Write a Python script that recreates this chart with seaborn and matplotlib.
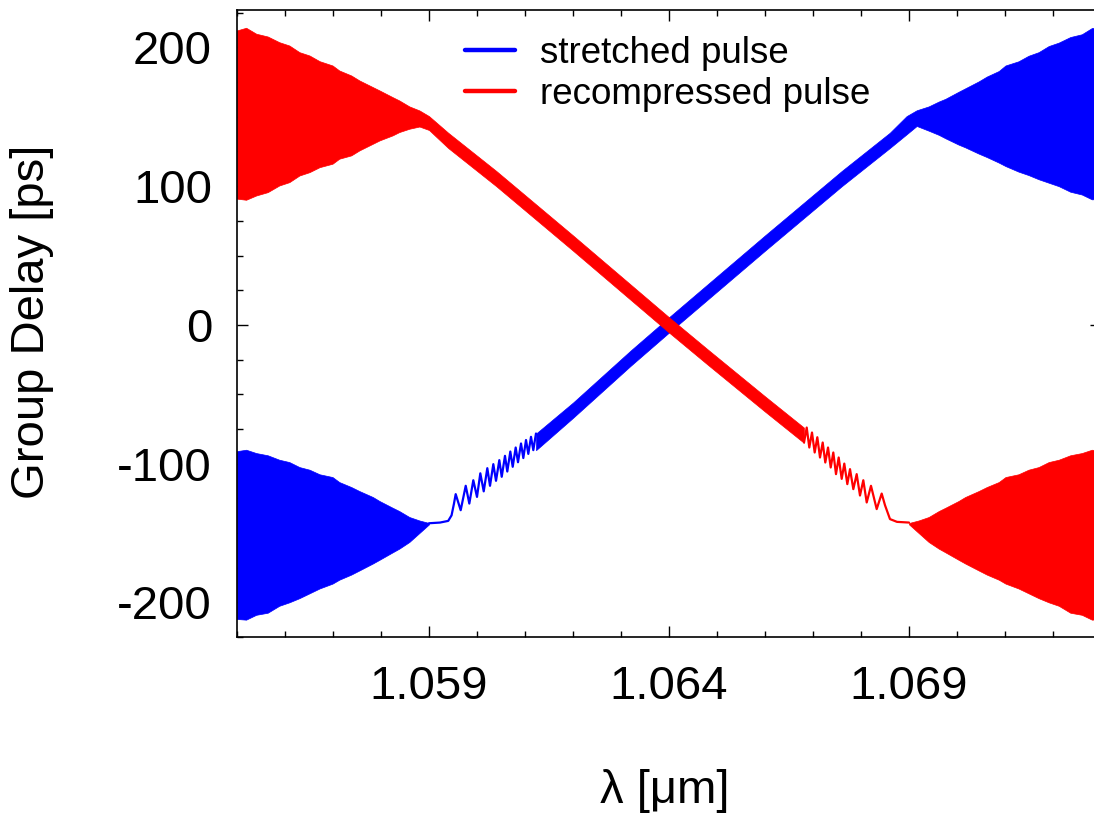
import matplotlib
matplotlib.use("Agg")
import matplotlib.pyplot as plt
import seaborn as sns
from matplotlib.ticker import MultipleLocator, FixedLocator, StrMethodFormatter
from matplotlib.lines import Line2D

# ---------------------------------------------------------------------------
# Group delay of the chirped grating, wavelength in µm, delay in ps
# ---------------------------------------------------------------------------

# stretched pulse: strongly oscillating region below the band (envelope)
blue_left_lam = [1.0550, 1.05519, 1.05540, 1.05564, 1.05588, 1.05609, 1.05630,
                 1.05651, 1.05672, 1.05699, 1.05713, 1.05738, 1.05755, 1.05783,
                 1.05797, 1.05824, 1.05838, 1.05859, 1.05880, 1.0590]
blue_left_hi = [-91, -90, -92.4, -94, -97.2, -98.9, -102.5, -104.4, -107.7, -109.7,
                -113.3, -116.9, -119.8, -124.1, -127, -131.8, -134.2, -138.5, -141,
                -142.8]
blue_left_lo = [-212, -212.5, -209, -207.5, -202.5, -200, -197, -193.5, -190, -186.5,
                -183.7, -180, -177, -172, -169.3, -164, -161.3, -156.5, -150, -143.8]

# stretched pulse: band edge ripple
blue_ripple_lam = [1.05900, 1.05923, 1.05940, 1.05947, 1.05952, 1.059556, 1.059660,
                   1.059765, 1.059840, 1.059923, 1.060000, 1.060069, 1.060140,
                   1.060215, 1.060271, 1.060340, 1.060396, 1.060465, 1.060515,
                   1.060583, 1.060631, 1.060694, 1.060744, 1.060806, 1.060854,
                   1.060917, 1.060965, 1.061021, 1.061069, 1.061125, 1.061173,
                   1.061229]
blue_ripple_gd = [-143, -142.5, -141.3, -137.3, -128.9, -122, -133.6, -116, -128.8,
                  -112, -124, -107, -120, -103.3, -116, -100.4, -112.4, -97.5, -109.5,
                  -94.4, -105.7, -91.3, -102.3, -88.4, -99, -85.5, -96, -83, -93,
                  -80.7, -90.3, -78.3]

# stretched pulse: dense ripple band and the region above the band (envelope)
blue_main_lam = [1.06123, 1.0620, 1.0632, 1.0640, 1.0650, 1.0660, 1.0676, 1.0686,
                 1.06895, 1.06916, 1.06941, 1.06962, 1.06976, 1.07003, 1.07017,
                 1.07045, 1.07062, 1.07087, 1.07101, 1.07128, 1.07149, 1.07170,
                 1.07191, 1.07212, 1.07236, 1.07260, 1.07281, 1.0730]
blue_main_hi = [-78.3, -56, -18.5, 5.5, 35, 64.5, 111, 138.5, 150.5, 154.7, 157.5,
                161, 163, 168, 170.5, 175.5, 179, 183, 187, 190, 194, 196.6, 201,
                203.5, 207.5, 209.5, 214, 214]
blue_main_lo = [-90.3, -67, -29.5, -5.5, 24, 53.5, 100, 127.5, 137.4, 143.4, 140, 137,
                134.5, 130, 128, 123.5, 121, 117, 114.5, 110.5, 108, 105, 102.5, 100,
                96, 94, 90.5, 91]

# recompressed pulse: region above the band (envelope) and dense ripple band
red_main_lam = [1.0550, 1.05519, 1.05540, 1.05564, 1.05588, 1.05609, 1.05630,
                1.05651, 1.05672, 1.05699, 1.05713, 1.05738, 1.05755, 1.05783,
                1.05797, 1.05824, 1.05838, 1.05859, 1.05880, 1.0590, 1.0594,
                1.0604, 1.0620, 1.0630, 1.0640, 1.0648, 1.0660, 1.06681]
red_main_hi = [212.3, 214.2, 209.9, 207.9, 203.8, 201.4, 196.6, 194.2, 190.1, 187,
               183.4, 179.8, 176.2, 171.4, 169, 164.2, 161.8, 157.5, 154.6, 150.5,
               138.5, 111, 64.5, 35, 5.5, -17.5, -51.5, -74]
red_main_lo = [91, 90.2, 93.3, 95.7, 100.5, 102.9, 107.7, 110.1, 113.7, 116.2, 119.8,
               122.2, 125.8, 130.6, 133, 136.6, 139, 141.4, 143, 140.5, 127.5, 100,
               53.5, 24, -5.5, -28.5, -62.5, -85]

# recompressed pulse: band edge ripple
red_ripple_lam = [1.066813, 1.066869, 1.066923, 1.066979, 1.067035, 1.067090,
                  1.067146, 1.067202, 1.067256, 1.067313, 1.067369, 1.067423,
                  1.067479, 1.067535, 1.067598, 1.067652, 1.067715, 1.067771,
                  1.067840, 1.067910, 1.067979, 1.068048, 1.068119, 1.068208,
                  1.068327, 1.068431, 1.068500, 1.068604, 1.068750, 1.069000]
red_ripple_gd = [-84.8, -74, -88.4, -77.6, -92, -81, -95.6, -84.8, -99.2, -88.4,
                 -102.8, -92, -107.6, -95.6, -111, -100, -114.8, -104, -118.4, -107.6,
                 -123, -112, -128, -116, -132.8, -121.6, -130, -140, -142, -142.5]

# recompressed pulse: strongly oscillating region below the band (envelope)
red_right_lam = [1.0690, 1.06920, 1.06941, 1.06962, 1.06976, 1.07003, 1.07017,
                 1.07045, 1.07062, 1.07087, 1.07101, 1.07128, 1.07149, 1.07170,
                 1.07191, 1.07212, 1.07236, 1.07260, 1.07281, 1.0730]
red_right_hi = [-142.8, -141, -138.5, -134.2, -131.8, -127, -124.1, -119.8, -116.9,
                -113.3, -109.7, -107.7, -104.4, -102.5, -98.9, -97.2, -94, -92.4, -90,
                -91]
red_right_lo = [-143.8, -150, -156.5, -161.3, -164, -169.3, -172, -177, -180, -183.7,
                -186.5, -190, -193.5, -197, -200, -202.5, -207.5, -209, -212.5, -212]

series_labels = ["stretched pulse", "recompressed pulse"]
x_ticks = [1.059, 1.064, 1.069]
y_ticks = [-200, -100, 0, 100, 200]

BLUE = "#0000ff"
RED = "#ff0000"

sns.set_theme(style="ticks")
plt.rcParams["font.family"] = ["Liberation Sans", "DejaVu Sans"]
plt.rcParams["axes.unicode_minus"] = False
plt.rcParams["text.color"] = "black"
plt.rcParams["axes.labelcolor"] = "black"
plt.rcParams["xtick.color"] = "black"
plt.rcParams["ytick.color"] = "black"

fig = plt.figure(figsize=(10.94, 8.14), dpi=100)
ax = fig.add_axes([237 / 1094, 177 / 814, 864 / 1094, 627 / 814])


def band(lam, lo, hi, color):
    ax.fill_between(lam, lo, hi, color=color, edgecolor=color, linewidth=0.5)


# stretched pulse
band(blue_left_lam, blue_left_lo, blue_left_hi, BLUE)
sns.lineplot(x=blue_ripple_lam, y=blue_ripple_gd, color=BLUE, linewidth=1.6,
             sort=False, estimator=None, ax=ax)
band(blue_main_lam, blue_main_lo, blue_main_hi, BLUE)

# recompressed pulse (drawn on top)
band(red_main_lam, red_main_lo, red_main_hi, RED)
sns.lineplot(x=red_ripple_lam, y=red_ripple_gd, color=RED, linewidth=1.6,
             sort=False, estimator=None, ax=ax)
band(red_right_lam, red_right_lo, red_right_hi, RED)

ax.set_xlim(1.055, 1.073)
ax.set_ylim(-225, 227)

ax.xaxis.set_major_locator(FixedLocator(x_ticks))
ax.xaxis.set_minor_locator(MultipleLocator(0.001))
ax.xaxis.set_major_formatter(StrMethodFormatter("{x:.3f}"))
ax.yaxis.set_major_locator(FixedLocator(y_ticks))
ax.yaxis.set_minor_locator(MultipleLocator(25))
ax.yaxis.set_major_formatter(StrMethodFormatter("{x:.0f}"))

ax.tick_params(which="both", direction="in", top=True, right=True,
               colors="black", width=1.0)
ax.tick_params(which="major", length=8, labelsize=34)
ax.tick_params(which="minor", length=4)
ax.tick_params(axis="x", which="major", pad=20)
ax.tick_params(axis="y", which="major", pad=18)
for sp in ax.spines.values():
    sp.set_color("black")
    sp.set_linewidth(1.2)

ax.set_xlabel("λ [μm]", fontsize=34, va="center", color="black")
ax.xaxis.set_label_coords(0.495, -0.246)
ax.set_ylabel("Group Delay [ps]", fontsize=34, va="center", color="black")
ax.yaxis.set_label_coords(-0.237, 0.502)

handles = [Line2D([], [], color=BLUE, linewidth=3.2),
           Line2D([], [], color=RED, linewidth=3.2)]
leg = ax.legend(handles, series_labels, loc="upper left",
                bbox_to_anchor=(0.264, 0.958), frameon=False, fontsize=26.5,
                handlelength=1.36, handletextpad=0.68, labelspacing=0.16,
                borderpad=0, borderaxespad=0)
for t in leg.get_texts():
    t.set_color("black")

fig.savefig("out.png", dpi=100, facecolor="white")
